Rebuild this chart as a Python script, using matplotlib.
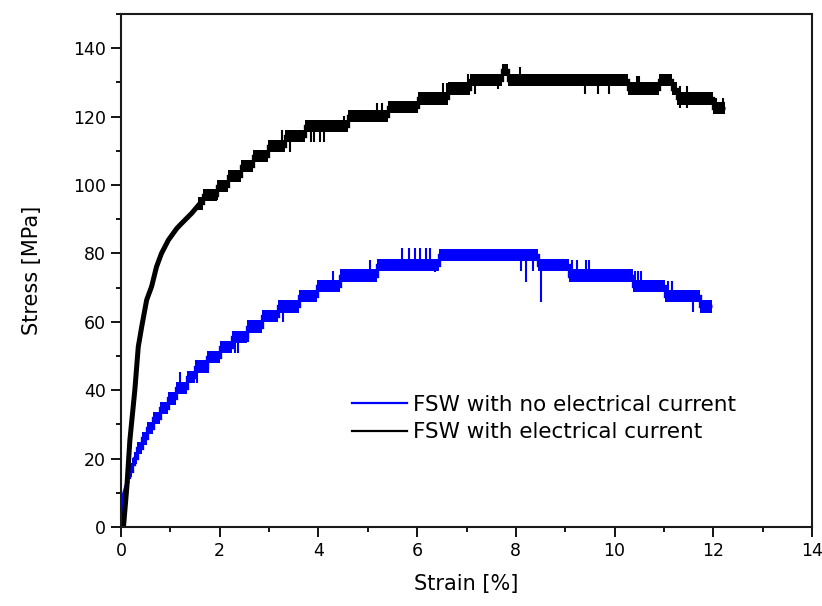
"""Stress-strain curves of FSW joints with and without electrical current."""

import matplotlib

matplotlib.use("Agg")
import matplotlib.pyplot as plt
import numpy as np
from matplotlib.lines import Line2D
from matplotlib.ticker import MultipleLocator

# --- FSW with no electrical current (blue) ---
blue_rise_strain = [0.03, 0.05, 0.06, 0.10, 0.14]
blue_rise_stress = [0.0, 8.9, 9.5, 11.5, 13.5]
blue_edges = [0.12, 0.17, 0.22, 0.27, 0.33, 0.42, 0.52, 0.65, 0.80, 0.95, 1.12, 1.33, 1.50,
              1.75, 2.00, 2.25, 2.55, 2.85, 3.18, 3.60, 3.97, 4.44, 5.19, 6.44, 8.45, 9.07,
              10.37, 11.02, 11.73, 11.98]
blue_levels = [14.7, 16.5, 18.5, 20.2, 23.0, 25.9, 28.9, 31.8, 34.7, 37.6, 40.6, 43.8, 46.9,
               49.8, 52.7, 55.6, 58.6, 61.7, 64.5, 67.5, 70.5, 73.5, 76.6, 79.5, 76.6, 73.5,
               70.5, 67.5, 64.5]
blue_spike_x = [1.20, 1.53, 1.76, 2.05, 2.12, 2.30, 2.37, 2.58, 3.28, 4.30, 5.05,
                5.69, 5.84, 5.96, 6.06, 6.18, 6.26, 6.37, 8.10, 8.20, 8.35, 8.51,
                9.14, 9.24, 9.42, 9.48, 10.41, 10.47, 10.53, 11.08, 11.16, 11.59]
blue_spike_lo = [40.6, 42.0, 45.0, 51.0, 51.0, 51.0, 51.0, 54.0, 60.0, 70.5, 73.5,
                 76.6, 76.6, 76.6, 76.6, 76.6, 76.6, 74.6, 75.0, 71.7, 75.0, 65.9,
                 73.5, 73.5, 73.5, 73.5, 70.5, 70.5, 70.5, 67.5, 67.5, 63.0]
blue_spike_hi = [45.4, 46.9, 49.8, 52.7, 52.7, 55.6, 55.6, 58.6, 64.5, 75.0, 78.0,
                 81.6, 81.6, 81.6, 81.6, 81.6, 81.6, 76.6, 79.5, 79.5, 79.5, 76.6,
                 78.0, 78.0, 78.0, 78.0, 75.0, 75.0, 75.0, 72.0, 72.0, 67.5]

# --- FSW with electrical current (black) ---
black_rise_strain = [0.05, 0.12, 0.18, 0.28, 0.35, 0.42, 0.52, 0.62, 0.72, 0.82, 0.96,
                     1.13, 1.23, 1.43, 1.60]
black_rise_stress = [0.0, 12.0, 25.4, 40.0, 52.7, 58.6, 66.4, 70.3, 76.1, 80.0, 83.9,
                     87.3, 88.8, 91.7, 94.6]
black_edges = [1.55, 1.66, 1.95, 2.17, 2.43, 2.68, 2.98, 3.32, 3.73, 4.60, 5.41, 6.02,
               6.62, 7.07, 7.72, 7.84, 10.27, 10.90, 11.16, 11.26, 12.00, 12.24]
black_levels = [94.6, 97.0, 99.8, 102.6, 105.5, 108.5, 111.5, 114.4, 117.3, 120.2, 122.8,
                125.3, 128.2, 130.8, 133.6, 130.8, 128.2, 130.8, 128.2, 125.3, 122.5]
black_spike_x = [1.95, 3.26, 3.42, 3.66, 3.85, 3.92, 4.03, 4.11, 4.52, 5.19, 5.29, 5.92,
                 6.00, 6.52, 6.60, 7.03, 7.17, 7.64, 8.08, 9.40, 9.66, 9.89, 10.45, 10.50,
                 11.33, 11.47, 12.05, 12.20]
black_spike_lo = [95.6, 111.5, 109.6, 112.7, 112.7, 112.7, 112.7, 112.7, 115.5, 120.2,
                  120.2, 121.0, 121.0, 125.3, 125.3, 128.2, 126.6, 128.0, 130.8, 126.6,
                  126.6, 126.6, 128.2, 128.2, 122.5, 122.5, 121.0, 121.0]
black_spike_hi = [99.8, 116.0, 114.4, 114.4, 117.3, 117.3, 117.3, 117.3, 120.2, 124.1,
                  124.1, 122.8, 122.8, 129.8, 129.8, 132.5, 130.8, 130.8, 134.5, 130.8,
                  130.8, 130.8, 132.0, 132.0, 129.0, 129.0, 125.3, 125.3]

legend_labels = ["FSW with no electrical current", "FSW with electrical current"]

BLUE = "#0000ff"
BLACK = "#000000"
BAND = 3.6  # vertical thickness of the noisy plateaus, MPa


def draw_curve(ax, rise_x, rise_y, edges, levels, sx, slo, shi, color, rise_width):
    ax.plot(rise_x, rise_y, color=color, linewidth=rise_width, solid_capstyle="butt")
    edges = np.asarray(edges)
    levels = np.asarray(levels)
    ax.bar(edges[:-1], BAND, width=np.diff(edges), bottom=levels - BAND / 2,
           align="edge", color=color, linewidth=0)
    # thin step trace ties neighbouring plateaus together
    ax.stairs(levels, edges, baseline=None, color=color, linewidth=2.4)
    ax.vlines(sx, slo, shi, color=color, linewidth=1.5)


fig = plt.figure(figsize=(8.22, 6.06), dpi=100)
ax = fig.add_axes([121 / 822, 79 / 606, 691 / 822, 513 / 606])

draw_curve(ax, blue_rise_strain, blue_rise_stress, blue_edges, blue_levels,
           blue_spike_x, blue_spike_lo, blue_spike_hi, BLUE, 3.0)
draw_curve(ax, black_rise_strain, black_rise_stress, black_edges, black_levels,
           black_spike_x, black_spike_lo, black_spike_hi, BLACK, 3.6)

ax.set_xlim(0, 14)
ax.set_ylim(0, 150)
ax.xaxis.set_major_locator(MultipleLocator(2))
ax.xaxis.set_minor_locator(MultipleLocator(1))
ax.yaxis.set_major_locator(MultipleLocator(20))
ax.yaxis.set_minor_locator(MultipleLocator(10))
ax.tick_params(which="major", direction="out", length=7, width=1.3, labelsize=12.5,
               pad=4, top=False, right=False)
ax.tick_params(which="minor", direction="out", length=3.8, width=1.3, top=False, right=False)
for spine in ax.spines.values():
    spine.set_linewidth(1.5)
    spine.set_color("#1a1a1a")

ax.set_xlabel("Strain [%]", fontsize=15, labelpad=10)
ax.set_ylabel("Stress [MPa]", fontsize=15, labelpad=22)

handles = [Line2D([], [], color=BLUE, linewidth=1.6), Line2D([], [], color=BLACK, linewidth=1.6)]
ax.legend(handles, legend_labels, loc="upper left", bbox_to_anchor=(352 / 822, 1 - 395 / 606),
          bbox_transform=fig.transFigure, frameon=False, fontsize=15.5, handlelength=2.55,
          handletextpad=0.3, labelspacing=0.33, borderpad=0, borderaxespad=0)

fig.savefig("out.png", dpi=100)
